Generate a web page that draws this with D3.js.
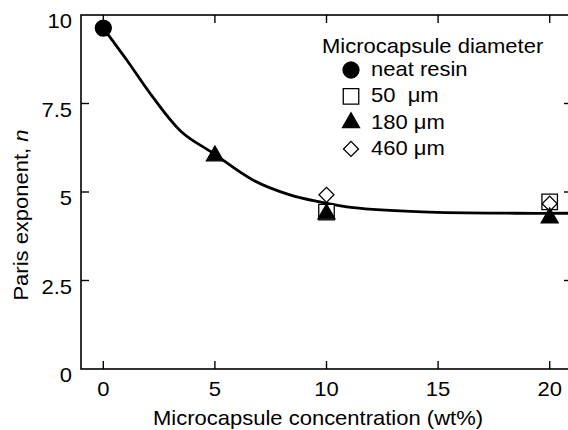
<!DOCTYPE html>
<html>
<head>
<meta charset="utf-8">
<script src="https://cdn.jsdelivr.net/npm/d3@7"></script>
<style>
  body { margin: 0; background: #fff; }
  text { font-family: "Liberation Sans", Arial, sans-serif; fill: #000; white-space: pre; }
</style>
</head>
<body>
<div id="chart"></div>
<script>
// measured points, by microcapsule diameter
const neatX = [0];
const neatY = [9.63];
const um50X = [10, 20];
const um50Y = [4.43, 4.72];
const um180X = [5, 10, 20];
const um180Y = [6.02, 4.38, 4.27];
const um460X = [10, 20];
const um460Y = [4.92, 4.67];

// fitted curve
const fitX = [0, 0.29, 1.05, 2.22, 3.52, 4.91, 6.7, 8.36, 9.71, 11.2, 14.3, 18.5, 21];
const fitY = [9.63, 9.38, 8.73, 7.68, 6.69, 6.1, 5.34, 4.92, 4.72, 4.56, 4.44, 4.4, 4.4];

const xTicks = [0, 5, 10, 15, 20];
const yTicks = [0, 2.5, 5, 7.5, 10];
const yTickLabels = ["0", "2.5", "5", "7.5", "10"];

const legendLabels = ["neat resin", "50  \u03bcm", "180 \u03bcm", "460 \u03bcm"];
const legendKinds = ["circle", "square", "triangle", "diamond"];

const W = 568, H = 430;
const margin = { left: 81, top: 15, right: 572, bottom: 369 };
const stretch = 1.1; // the source font is a bit wider than Arial

const svg = d3.select("#chart").append("svg")
    .attr("width", W)
    .attr("height", H);

const x = d3.scaleLinear().domain([-1, 21]).range([margin.left, margin.right]);
const y = d3.scaleLinear().domain([0, 10]).range([margin.bottom, margin.top]);

// frame
svg.append("rect")
    .attr("x", margin.left).attr("y", margin.top)
    .attr("width", margin.right - margin.left)
    .attr("height", margin.bottom - margin.top)
    .attr("fill", "none").attr("stroke", "#000").attr("stroke-width", 1.6);

// inward ticks on all four sides
const tl = 8;
svg.append("g").selectAll("line").data(xTicks).join("line")
    .attr("x1", d => x(d)).attr("x2", d => x(d))
    .attr("y1", margin.bottom).attr("y2", margin.bottom - tl)
    .attr("stroke", "#000").attr("stroke-width", 1.4);
svg.append("g").selectAll("line").data(xTicks).join("line")
    .attr("x1", d => x(d)).attr("x2", d => x(d))
    .attr("y1", margin.top).attr("y2", margin.top + tl)
    .attr("stroke", "#000").attr("stroke-width", 1.4);
svg.append("g").selectAll("line").data(yTicks.slice(1, 4)).join("line")
    .attr("y1", d => y(d)).attr("y2", d => y(d))
    .attr("x1", margin.left).attr("x2", margin.left + tl)
    .attr("stroke", "#000").attr("stroke-width", 1.4);
svg.append("g").selectAll("line").data(yTicks.slice(1, 4)).join("line")
    .attr("y1", d => y(d)).attr("y2", d => y(d))
    .attr("x1", margin.right).attr("x2", margin.right - tl)
    .attr("stroke", "#000").attr("stroke-width", 1.4);

// tick labels
svg.append("g").selectAll("text").data(xTicks).join("text")
    .attr("transform", d => "translate(" + x(d) + "," + 396 + ") scale(" + stretch + ",1)")
    .attr("text-anchor", "middle")
    .style("font-size", "20px")
    .text(d => d);
svg.append("g").selectAll("text").data(yTicks).join("text")
    .attr("transform", (d, i) => "translate(72," + (y(d) + 13) + ") scale(" + stretch + ",1)")
    .attr("text-anchor", "end")
    .style("font-size", "20px")
    .text((d, i) => yTickLabels[i]);

// axis titles
svg.append("text")
    .attr("transform", "translate(318,425) scale(" + stretch + ",1)")
    .attr("text-anchor", "middle")
    .style("font-size", "20px")
    .text("Microcapsule concentration (wt%)");

const yTitle = svg.append("text")
    .attr("transform", "translate(28,215) rotate(-90) scale(" + stretch + ",1)")
    .attr("text-anchor", "middle")
    .style("font-size", "20px");
yTitle.append("tspan").text("Paris exponent, ");
yTitle.append("tspan").style("font-style", "italic").text("n");

// fitted curve
const fit = fitX.map((d, i) => [d, fitY[i]]);
svg.append("path")
    .datum(fit)
    .attr("fill", "none")
    .attr("stroke", "#000")
    .attr("stroke-width", 2.8)
    .attr("d", d3.line().x(d => x(d[0])).y(d => y(d[1])).curve(d3.curveCatmullRom.alpha(0.5)));

// marker shapes
const shapes = {
    circle: d3.symbol().type(d3.symbolCircle).size(200),
    square: d3.symbol().type(d3.symbolSquare).size(240),
    triangle: d3.symbol().type(d3.symbolTriangle).size(125),
    diamond: d3.symbol().type(d3.symbolSquare).size(112)
};
const fills = { circle: "#000", square: "#fff", triangle: "#000", diamond: "#fff" };

function marker(sel, kind) {
    sel.attr("d", shapes[kind]())
        .attr("fill", fills[kind])
        .attr("stroke", "#000")
        .attr("stroke-width", 1.3);
}
function place(kind) {
    return (d) => "translate(" + x(d[0]) + "," + y(d[1]) + ")" + (kind === "diamond" ? " rotate(45)" : "");
}

const series = [
    ["square", um50X, um50Y],
    ["diamond", um460X, um460Y],
    ["triangle", um180X, um180Y],
    ["circle", neatX, neatY]
];
series.forEach(([kind, xs, ys]) => {
    svg.append("g").selectAll("path")
        .data(xs.map((d, i) => [d, ys[i]]))
        .join("path")
        .call(marker, kind)
        .attr("transform", place(kind));
});

// legend
svg.append("text")
    .attr("transform", "translate(322,53) scale(" + stretch + ",1)")
    .style("font-size", "20px")
    .text("Microcapsule diameter");

const leg = svg.append("g").selectAll("g")
    .data(legendLabels)
    .join("g")
    .attr("transform", (d, i) => "translate(351," + (70 + i * 26.3) + ")");
leg.append("path")
    .each(function (d, i) {
        const kind = legendKinds[i];
        d3.select(this).call(marker, kind)
            .attr("transform", kind === "diamond" ? "rotate(45)" : null);
    });
leg.append("text")
    .attr("transform", "translate(20,6) scale(" + stretch + ",1)")
    .style("font-size", "20px")
    .text(d => d);
</script>
</body>
</html>
